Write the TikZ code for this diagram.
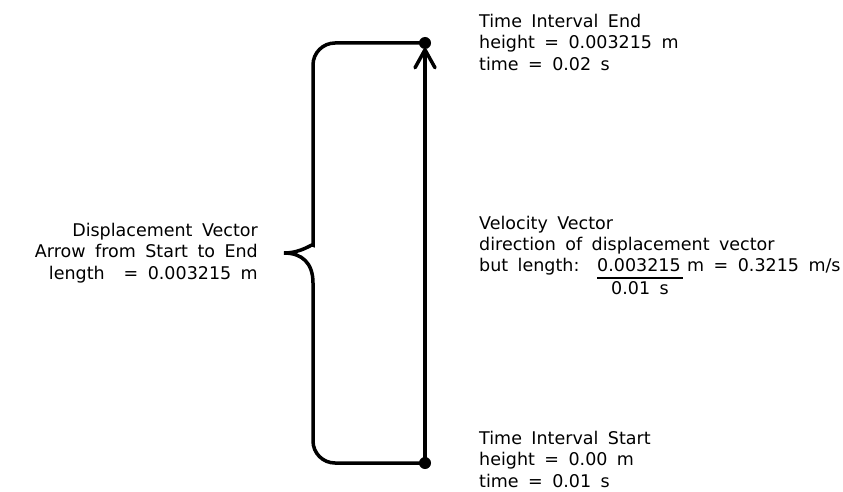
\documentclass[tikz,border=0pt]{standalone}
\usepackage{fontspec}
\setmainfont[WordSpace=1.7]{DejaVu Sans}
\usetikzlibrary{positioning,arrows.meta}

\begin{document}
\begin{tikzpicture}[x=1pt, y=-1pt,
        dot/.style={circle, fill=black, inner sep=0pt, minimum size=12pt},
        label_style/.style={font=\fontsize{17.5}{21.5}\selectfont, align=left, inner sep=0pt},
        vec_style/.style={line width=4pt, shorten >=5pt, -{Straight Barb[length=18pt, width=20pt, line width=3.5pt, round]}},
        brace_style/.style={line width=3.5pt}]
        \useasboundingbox (0,0) rectangle (843,492);
        \node[dot] (ivend) at (425,43) {};
        \node[dot] (ivstart) at (425,463) {};
        \coordinate (tip) at (284,253);
        \draw[vec_style] (ivstart.center) -- (ivend.center);
        \draw[brace_style, rounded corners=22pt] (ivend.center) -| (313,223) [sharp corners]
            .. controls (313,243) and (302,253) .. (tip)
            .. controls (302,253) and (313,263) .. (313,283) [rounded corners=22pt] |- (ivstart.center);
        \node[label_style, anchor=west] (endlabel) at (479,42) {Time Interval End\\height = 0.003215 m\\time = 0.02 s};
        \node[label_style, anchor=west] (startlabel) at (479,459) {Time Interval Start\\height = 0.00 m\\time = 0.01 s};
        \node[label_style, align=right, anchor=east] (displabel) at (258,253) {Displacement Vector\\Arrow from Start to End\\length\ \ = 0.003215 m};
        \node[label_style, anchor=base west] (veltitle) at (479,229) {Velocity Vector};
        \node[label_style, anchor=base west] (veldir) at (479,250) {direction of displacement vector};
        \node[label_style, anchor=base west] (butlen) at (479,271) {but length:};
        \node[label_style, anchor=base west] (num) at (597,271) {0.003215};
        \node[label_style, anchor=base west] (rest) at (687,271) {m = 0.3215 m/s};
        \draw[line width=1.5pt] ([yshift=-7pt]num.base west) -- ++(86,0);
        \node[label_style, anchor=base] (den) at (640,294) {0.01 s};
      \end{tikzpicture}
\end{document}
